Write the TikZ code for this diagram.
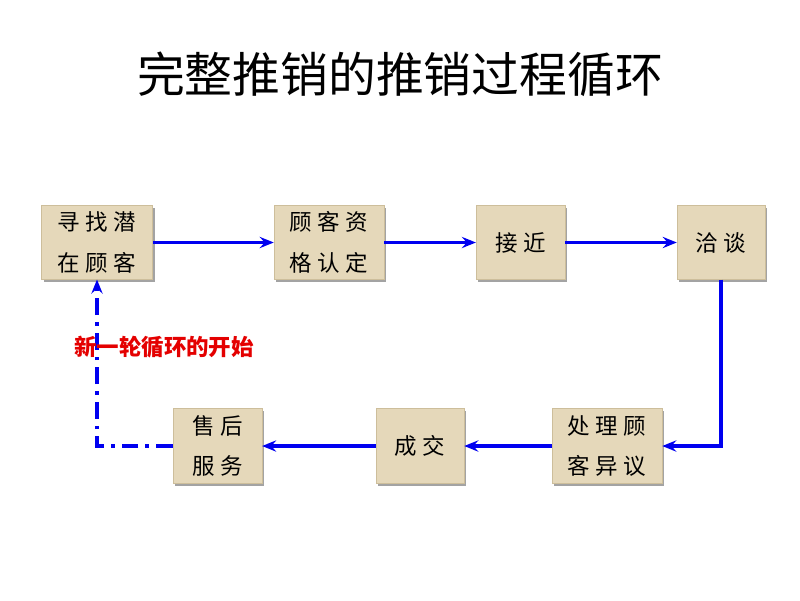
\documentclass[tikz,border=0pt]{standalone}
\usepackage{fontspec}
\newfontfamily\cjk{Noto Sans CJK SC}
\newfontfamily\boxcjk[LetterSpace=24]{Noto Sans CJK SC}
\usetikzlibrary{arrows.meta,shadows}
\definecolor{paper}{RGB}{229,216,186}
\definecolor{paperedge}{RGB}{205,190,155}
\definecolor{flowblue}{RGB}{0,0,240}
\definecolor{loopred}{RGB}{228,0,0}

\begin{document}
\begin{tikzpicture}[x=0.025cm,y=-0.025cm,
		stage/.style={draw=paperedge,line width=0.3pt,fill=paper,inner sep=0pt,align=center,
			minimum height=1.84cm,font=\boxcjk\fontsize{16}{29}\selectfont,
			drop shadow={shadow xshift=1.6pt,shadow yshift=-1.6pt,fill=black!45,opacity=0.8}},
		flow/.style={flowblue,line width=2.6pt,-{Stealth[length=10pt,width=8pt,inset=3.5pt]}}]
		\useasboundingbox (0,0) rectangle (800,600);
		
		\node[font=\cjk\fontsize{34}{34}\selectfont] (title) at (400,74) {完整推销的推销过程循环};
		
		% top row, left to right
		\node[stage,minimum width=2.78cm] (find) at (97,242.5) {寻找潜\\在顾客};
		\node[stage,minimum width=2.75cm] (qualify) at (329,242.5) {顾客资\\格认定};
		\node[stage,minimum width=2.22cm] (approach) at (520.5,242.5) {接近};
		\node[stage,minimum width=2.2cm] (talk) at (721,242.5) {洽谈};
		
		% bottom row, right to left
		\node[stage,minimum width=2.75cm,minimum height=1.88cm] (objection) at (607,446) {处理顾\\客异议};
		\node[stage,minimum width=2.2cm,minimum height=1.88cm] (deal) at (420,446) {成交};
		\node[stage,minimum width=2.22cm,minimum height=1.88cm] (service) at (217.5,446) {售后\\服务};
		
		\foreach \a/\b in {find/qualify, qualify/approach, approach/talk, objection/deal, deal/service}{
			\draw[flow] (\a) -- (\b);
		}
		\draw[flow] (talk.south) |- (objection.east);
		
		\draw[flow,dash pattern=on 12pt off 5pt on 2.5pt off 5pt] (service.west) -| (find.south);
		\node[font=\cjk\bfseries\fontsize{16}{16}\selectfont,text=loopred] (restart) at (164,347) {新一轮循环的开始};
\end{tikzpicture}
\end{document}
